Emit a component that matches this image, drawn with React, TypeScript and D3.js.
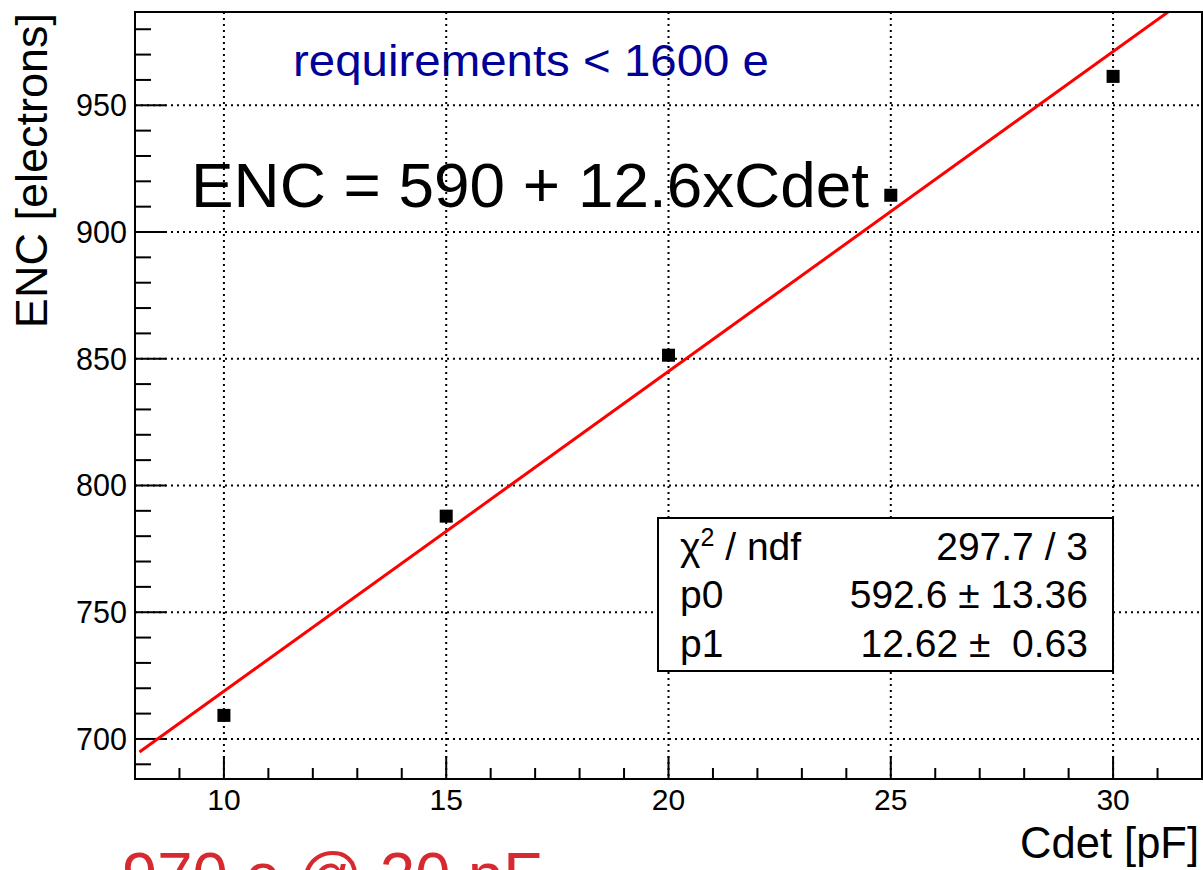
import React from "react";
import * as d3 from "d3";

const cdet = [10, 15, 20, 25, 30];
const enc = [709.3, 787.9, 851.4, 914.5, 961.4];
const fitP0 = 592.6;
const fitP1 = 12.62;
const fitRange = [8.1, 32];
const xTicks = [10, 15, 20, 25, 30];
const yTicks = [700, 750, 800, 850, 900, 950];
const statsLabels = ["p0", "p1"];
const statsValues = ["592.6 \u00b1 13.36", "12.62 \u00b1  0.63"];

const W = 1203;
const H = 870;
const M = { left: 135, right: 1202, top: 12, bottom: 779 };
const FONT = "'Liberation Sans', Arial, Helvetica, sans-serif";

export default function App() {
  const x = d3.scaleLinear().domain([8, 32]).range([M.left, M.right]);
  const y = d3.scaleLinear().domain([684.2, 986.8]).range([M.bottom, M.top]);

  const xMinor = d3.range(8, 32.001, 1);
  const yMinor = d3.range(690, 986, 10);

  const fitLine = d3
    .line<number>()
    .x((v) => x(v))
    .y((v) => y(fitP0 + fitP1 * v));

  const ms = 13;

  return (
    <svg
      width={W}
      height={H}
      style={{ position: "absolute", left: 0, top: 0, background: "#fff" }}
      fontFamily={FONT}
    >
      <defs>
        <clipPath id="frameClip">
          <rect x={M.left} y={M.top} width={M.right - M.left} height={M.bottom - M.top} />
        </clipPath>
      </defs>
      <rect x={0} y={0} width={W} height={H} fill="#fff" />

      {/* annotations (drawn under grid) */}
      <text
        x={293}
        y={76}
        fontSize={45}
        fill="#000099"
        textLength={476}
        lengthAdjust="spacingAndGlyphs"
      >
        requirements &lt; 1600 e
      </text>
      <text
        x={191}
        y={207}
        fontSize={63}
        fill="#000"
        textLength={678}
        lengthAdjust="spacingAndGlyphs"
      >
        ENC = 590 + 12.6xCdet
      </text>

      {/* grid */}
      {xTicks.map((t) => (
        <line
          key={"gx" + t}
          x1={x(t)}
          x2={x(t)}
          y1={M.top}
          y2={M.bottom}
          stroke="#000"
          strokeWidth={2}
          strokeDasharray="2 4"
        />
      ))}
      {yTicks.map((t) => (
        <line
          key={"gy" + t}
          x1={M.left}
          x2={M.right}
          y1={y(t)}
          y2={y(t)}
          stroke="#000"
          strokeWidth={2}
          strokeDasharray="2 4"
        />
      ))}

      {/* x ticks */}
      {xMinor.map((t) => {
        const major = xTicks.includes(t);
        return (
          <line
            key={"tx" + t}
            x1={x(t)}
            x2={x(t)}
            y1={M.bottom}
            y2={M.bottom - (major ? 23 : 11)}
            stroke="#000"
            strokeWidth={2}
          />
        );
      })}
      {/* y ticks */}
      {yMinor.map((t) => {
        const major = yTicks.includes(t);
        return (
          <line
            key={"ty" + t}
            x1={M.left}
            x2={M.left + (major ? 31 : 16)}
            y1={y(t)}
            y2={y(t)}
            stroke="#000"
            strokeWidth={2}
          />
        );
      })}

      {/* fit line */}
      <g clipPath="url(#frameClip)">
        <path
          d={fitLine(fitRange) || ""}
          fill="none"
          stroke="#ff0000"
          strokeWidth={3}
        />
      </g>

      {/* data markers */}
      {cdet.map((c, i) => (
        <rect
          key={"m" + i}
          x={x(c) - ms / 2}
          y={y(enc[i]) - ms / 2}
          width={ms}
          height={ms}
          fill="#000"
        />
      ))}

      {/* frame */}
      <rect
        x={M.left}
        y={M.top}
        width={M.right - M.left}
        height={M.bottom - M.top}
        fill="none"
        stroke="#000"
        strokeWidth={2}
      />

      {/* tick labels */}
      {xTicks.map((t) => (
        <text key={"lx" + t} x={x(t)} y={810} fontSize={30} textAnchor="middle" fill="#000">
          {t}
        </text>
      ))}
      {yTicks.map((t) => (
        <text
          key={"ly" + t}
          x={127}
          y={y(t) + 11}
          fontSize={30.5}
          textAnchor="end"
          fill="#000"
        >
          {t}
        </text>
      ))}

      {/* axis titles */}
      <text x={1199} y={858} fontSize={43.5} textAnchor="end" fill="#000">
        Cdet [pF]
      </text>
      <text
        transform="translate(47,13) rotate(-90)"
        fontSize={45}
        textAnchor="end"
        fill="#000"
      >
        ENC [electrons]
      </text>

      {/* stats box */}
      <rect x={658} y={518} width={455} height={153} fill="#fff" stroke="#000" strokeWidth={2} />
      <text x={680} y={560} fontSize={39} fill="#000">
        χ<tspan dy={-14} fontSize={25}>2</tspan>
        <tspan dy={14}> / ndf</tspan>
      </text>
      <text x={1088} y={560} fontSize={39} textAnchor="end" fill="#000">
        297.7 / 3
      </text>
      {statsLabels.map((l, i) => (
        <g key={"s" + i}>
          <text x={680} y={608 + i * 49} fontSize={39} fill="#000">
            {l}
          </text>
          <text
            x={1088}
            y={608 + i * 49}
            fontSize={39}
            textAnchor="end"
            fill="#000"
            style={{ whiteSpace: "pre" }}
          >
            {statsValues[i]}
          </text>
        </g>
      ))}

      {/* red note cut off at bottom */}
      <text
        x={122}
        y={898}
        fontSize={64}
        fill="#d62a30"
        textLength={420}
        lengthAdjust="spacingAndGlyphs"
      >
        970 e @ 30 pF
      </text>
    </svg>
  );
}
